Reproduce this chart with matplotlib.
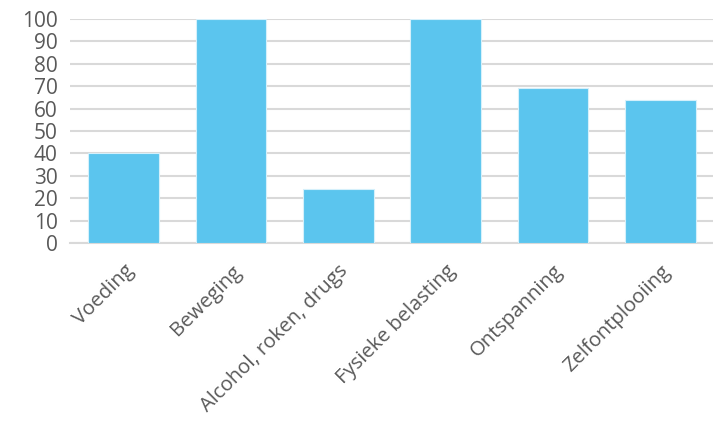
import matplotlib
matplotlib.use("Agg")
import matplotlib.pyplot as plt

categories = ["Voeding", "Beweging", "Alcohol, roken, drugs", "Fysieke belasting", "Ontspanning", "Zelfontplooiing"]
values = [40, 100, 24, 100, 69, 64]
yticks = [0, 10, 20, 30, 40, 50, 60, 70, 80, 90, 100]

plt.rcParams['font.family'] = ['Open Sans', 'DejaVu Sans']
fig = plt.figure(figsize=(7.13, 4.22), dpi=100)
ax = fig.add_axes([70/713, 1-243/422, 644/713, 224/422])
x = range(len(categories))
ax.bar(x, values, width=0.66, color="#5BC5EE", edgecolor="#D5F0FB", linewidth=0.8, zorder=3)
ax.set_xlim(-0.5, len(categories)-0.5)
ax.set_ylim(0, 100)
ax.set_yticks(yticks)
ax.set_yticklabels([str(v) for v in yticks], fontsize=15, color="#595959")
ax.set_xticks(list(x))
ax.set_xticklabels(categories, rotation=45, ha="right", rotation_mode="anchor", fontsize=14.6, color="#595959")
ax.yaxis.grid(True, color="#D9D9D9", linewidth=1.5, zorder=0)
ax.tick_params(axis="y", length=0, pad=9)
ax.tick_params(axis="x", length=0, pad=13)
for s in ["top", "right", "left"]:
    ax.spines[s].set_visible(False)
ax.spines["bottom"].set_color("#D9D9D9")
ax.spines["bottom"].set_linewidth(1.5)
fig.savefig("out.png", dpi=100)
